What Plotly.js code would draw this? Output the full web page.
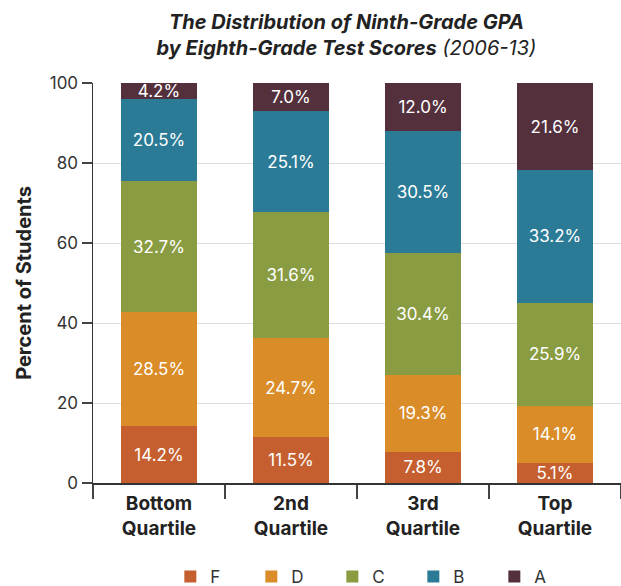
<!DOCTYPE html>
<html><head><meta charset="utf-8">
<script src="https://cdn.plot.ly/plotly-3.0.1.min.js"></script>
<style>html,body{margin:0;padding:0;background:#fff}#c{width:621px;height:586px}</style>
</head><body><div id="c"></div>
<script>
const categories = ["Bottom<br>Quartile", "2nd<br>Quartile", "3rd<br>Quartile", "Top<br>Quartile"];
const gradeNames = ["F", "D", "C", "B", "A"];
const F = [14.2, 11.5, 7.8, 5.1];
const D = [28.5, 24.7, 19.3, 14.1];
const C = [32.7, 31.6, 30.4, 25.9];
const B = [20.5, 25.1, 30.5, 33.2];
const A = [4.2, 7.0, 12.0, 21.6];
const yTicks = [0, 20, 40, 60, 80, 100];
const colors = ["#C65F2F", "#D98C27", "#8A9C42", "#2B7B96", "#53303C"];
const series = [F, D, C, B, A];
const font = "Inter, 'Open Sans', sans-serif";

const traces = series.map((vals, i) => ({
  type: "bar",
  name: gradeNames[i],
  x: categories,
  y: vals,
  marker: {color: colors[i], line: {width: 0}},
  text: vals.map(v => v.toFixed(1) + "%"),
  textposition: "inside",
  insidetextanchor: "middle",
  textfont: {color: "#fff", size: 17, family: font},
  hoverinfo: "none",
  width: 0.58
}));

const layout = {
  width: 621, height: 586,
  margin: {l: 93, r: 0, t: 83, b: 103, autoexpand: false},
  barmode: "stack",
  paper_bgcolor: "#fff", plot_bgcolor: "#fff",
  font: {family: font, color: "#333"},
  uniformtext: {minsize: 17, mode: "show"},
  title: {
    text: "<b><i>The Distribution of Ninth-Grade GPA</i></b><br><b><i>by Eighth-Grade Test Scores</i></b> <i>(2006-13)</i>",
    font: {size: 20, color: "#222", family: font},
    x: 0.48, xanchor: "center", xref: "paper",
    y: 0.951, yanchor: "top", yref: "container"
  },
  xaxis: {
    type: "category",
    range: [-0.5, 3.5],
    tickson: "boundaries",
    ticks: "outside", ticklen: 14, tickcolor: "#444", tickwidth: 1.5,
    showline: true, linecolor: "#333", linewidth: 1.5,
    tickfont: {size: 19, color: "#222", family: font, weight: "bold"},
    ticklabelstandoff: 3,
    showgrid: false,
    fixedrange: true
  },
  yaxis: {
    range: [0, 100],
    tickvals: yTicks,
    ticktext: yTicks.map(String),
    ticks: "outside", ticklen: 10, tickcolor: "#444", tickwidth: 1.5,
    showline: true, linecolor: "#333", linewidth: 1.5,
    showgrid: true, gridcolor: "#dddddd", gridwidth: 1,
    zeroline: false,
    tickfont: {size: 17, color: "#333", family: font},
    title: {text: "<b>Percent of Students</b>", font: {size: 20, color: "#222", family: font}, standoff: 12}
  },
  showlegend: true,
  legend: {
    orientation: "h", traceorder: "normal",
    x: 0.53, xanchor: "center", y: -0.19, yanchor: "top",
    font: {size: 17, color: "#333", family: font},
    entrywidth: 36, itemwidth: 30
  }
};
Plotly.newPlot("c", traces, layout, {displayModeBar: false, staticPlot: true});
</script></body></html>
